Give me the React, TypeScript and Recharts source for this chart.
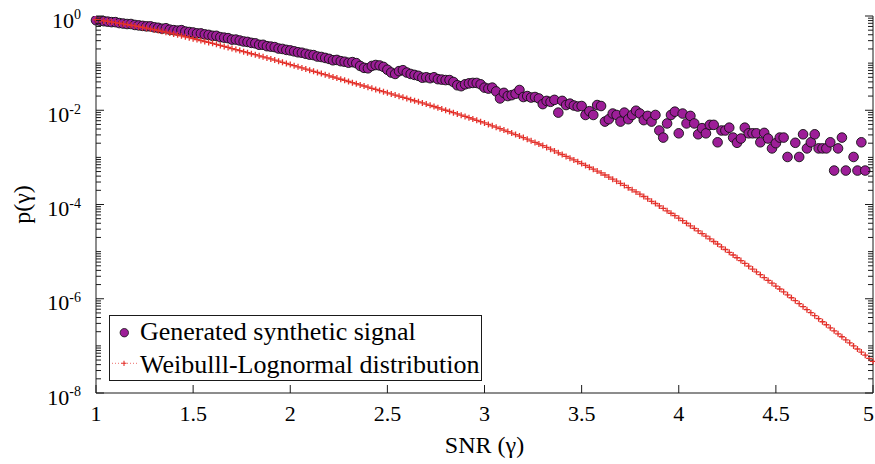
import { Legend, Scatter, ScatterChart, XAxis, YAxis } from "recharts";

// SNR grid shared by both series
const gamma = [
  1.0, 1.02, 1.04, 1.06, 1.08, 1.1, 1.12, 1.14, 1.16, 1.18,
  1.2, 1.22, 1.24, 1.26, 1.28, 1.3, 1.32, 1.34, 1.36, 1.38,
  1.4, 1.42, 1.44, 1.46, 1.48, 1.5, 1.52, 1.54, 1.56, 1.58,
  1.6, 1.62, 1.64, 1.66, 1.68, 1.7, 1.72, 1.74, 1.76, 1.78,
  1.8, 1.82, 1.84, 1.86, 1.88, 1.9, 1.92, 1.94, 1.96, 1.98,
  2.0, 2.02, 2.04, 2.06, 2.08, 2.1, 2.12, 2.14, 2.16, 2.18,
  2.2, 2.22, 2.24, 2.26, 2.28, 2.3, 2.32, 2.34, 2.36, 2.38,
  2.4, 2.42, 2.44, 2.46, 2.48, 2.5, 2.52, 2.54, 2.56, 2.58,
  2.6, 2.62, 2.64, 2.66, 2.68, 2.7, 2.72, 2.74, 2.76, 2.78,
  2.8, 2.82, 2.84, 2.86, 2.88, 2.9, 2.92, 2.94, 2.96, 2.98,
  3.0, 3.02, 3.04, 3.06, 3.08, 3.1, 3.12, 3.14, 3.16, 3.18,
  3.2, 3.22, 3.24, 3.26, 3.28, 3.3, 3.32, 3.34, 3.36, 3.38,
  3.4, 3.42, 3.44, 3.46, 3.48, 3.5, 3.52, 3.54, 3.56, 3.58,
  3.6, 3.62, 3.64, 3.66, 3.68, 3.7, 3.72, 3.74, 3.76, 3.78,
  3.8, 3.82, 3.84, 3.86, 3.88, 3.9, 3.92, 3.94, 3.96, 3.98,
  4.0, 4.02, 4.04, 4.06, 4.08, 4.1, 4.12, 4.14, 4.16, 4.18,
  4.2, 4.22, 4.24, 4.26, 4.28, 4.3, 4.32, 4.34, 4.36, 4.38,
  4.4, 4.42, 4.44, 4.46, 4.48, 4.5, 4.52, 4.54, 4.56, 4.58,
  4.6, 4.62, 4.64, 4.66, 4.68, 4.7, 4.72, 4.74, 4.76, 4.78,
  4.8, 4.82, 4.84, 4.86, 4.88, 4.9, 4.92, 4.94, 4.96, 4.98,
  5.0,
];

// histogram of the generated signal (null = empty bin)
const synthetic = [
  0.813, 0.794, 0.776, 0.759, 0.741, 0.741, 0.708, 0.692, 0.676, 0.676,
  0.646, 0.631, 0.617, 0.603, 0.603, 0.575, 0.562, 0.537, 0.55, 0.513,
  0.501, 0.49, 0.501, 0.468, 0.457, 0.447, 0.427, 0.427, 0.407, 0.398,
  0.38, 0.38, 0.355, 0.347, 0.339, 0.316, 0.316, 0.302, 0.288, 0.282,
  0.269, 0.263, 0.245, 0.245, 0.229, 0.224, 0.219, 0.204, 0.2, 0.191,
  0.186, 0.178, 0.17, 0.166, 0.158, 0.151, 0.148, 0.138, 0.135, 0.129,
  0.123, 0.115, 0.117, 0.11, 0.107, 0.102, 0.105, 0.1, 0.0871, 0.0794,
  0.0776, 0.0871, 0.0912, 0.0891, 0.0832, 0.0724, 0.0631, 0.0589, 0.0676, 0.0708,
  0.0631, 0.0589, 0.0562, 0.0537, 0.049, 0.0501, 0.0479, 0.0501, 0.0457, 0.0447,
  0.0437, 0.0437, 0.0398, 0.0339, 0.0324, 0.0355, 0.0372, 0.038, 0.038, 0.0355,
  0.0302, 0.0288, 0.0302, 0.0251, 0.0178, 0.0234, 0.02, 0.0209, 0.0224, 0.0269,
  0.0191, 0.02, 0.0186, 0.0191, 0.0178, 0.0135, 0.0158, 0.0151, 0.0166, 0.00891,
  0.0158, 0.0129, 0.0138, 0.0126, 0.012, 0.0123, 0.00794, 0.00955, 0.00794, 0.0129,
  0.0123, 0.00575, 0.00646, 0.00851, 0.00794, 0.00575, 0.00891, 0.00646, 0.00794, 0.00977,
  0.00851, 0.00617, 0.00759, 0.00575, 0.00794, 0.00372, 0.00263, 0.00525, 0.00794, 0.00933,
  0.00324, 0.00851, 0.00525, 0.00759, 0.00525, 0.00309, 0.00417, 0.00324, 0.0049, 0.0049,
  0.00209, 0.00372, 0.00372, 0.00427, 0.00263, 0.00204, 0.00251, 0.00427, 0.00324, 0.00324,
  0.00324, 0.00209, 0.00331, 0.00251, 0.00155, 0.002, 0.00263, 0.00263, 0.00102, null,
  0.00204, 0.00102, 0.00309, 0.00155, 0.00209, 0.00309, 0.00155, 0.00155, 0.00155, 0.00209,
  0.000525, 0.00155, 0.00263, 0.000525, null, 0.00102, 0.000525, 0.00209, 0.000525, null,
  null,
];

// analytical Weibull-Lognormal pdf
const weibullLognormal = [
  0.832, 0.809, 0.787, 0.766, 0.745, 0.724, 0.701, 0.679, 0.658, 0.637,
  0.617, 0.594, 0.573, 0.552, 0.532, 0.513, 0.492, 0.472, 0.453, 0.435,
  0.417, 0.398, 0.38, 0.363, 0.347, 0.331, 0.316, 0.302, 0.288, 0.275,
  0.263, 0.25, 0.238, 0.226, 0.215, 0.204, 0.194, 0.185, 0.175, 0.167,
  0.158, 0.151, 0.143, 0.136, 0.129, 0.123, 0.116, 0.11, 0.104, 0.0986,
  0.0933, 0.0883, 0.0836, 0.0791, 0.0748, 0.0708, 0.067, 0.0634, 0.06, 0.0568,
  0.0537, 0.0508, 0.0481, 0.0455, 0.0431, 0.0407, 0.0385, 0.0365, 0.0345, 0.0327,
  0.0309, 0.0292, 0.0277, 0.0262, 0.0248, 0.0234, 0.0222, 0.021, 0.0199, 0.0188,
  0.0178, 0.0168, 0.0159, 0.0151, 0.0143, 0.0135, 0.0127, 0.012, 0.0113, 0.0106,
  0.01, 0.00942, 0.00887, 0.00836, 0.00787, 0.00741, 0.00695, 0.00652, 0.00611, 0.00573,
  0.00537, 0.00501, 0.00468, 0.00437, 0.00407, 0.0038, 0.00353, 0.00328, 0.00305, 0.00283,
  0.00263, 0.00243, 0.00225, 0.00208, 0.00192, 0.00178, 0.00163, 0.00149, 0.00137, 0.00125,
  0.00115, 0.00105, 9.64e-4, 8.83e-4, 8.09e-4, 7.41e-4, 6.76e-4, 6.17e-4, 5.62e-4, 5.13e-4,
  4.68e-4, 4.23e-4, 3.82e-4, 3.45e-4, 3.12e-4, 2.82e-4, 2.54e-4, 2.28e-4, 2.05e-4, 1.85e-4,
  1.66e-4, 1.48e-4, 1.32e-4, 1.17e-4, 1.05e-4, 9.33e-5, 8.28e-5, 7.35e-5, 6.52e-5, 5.78e-5,
  5.13e-5, 4.53e-5, 4.0e-5, 3.53e-5, 3.12e-5, 2.75e-5, 2.42e-5, 2.13e-5, 1.87e-5, 1.64e-5,
  1.45e-5, 1.26e-5, 1.11e-5, 9.68e-6, 8.47e-6, 7.41e-6, 6.46e-6, 5.62e-6, 4.9e-6, 4.27e-6,
  3.72e-6, 3.24e-6, 2.82e-6, 2.45e-6, 2.14e-6, 1.86e-6, 1.61e-6, 1.4e-6, 1.21e-6, 1.05e-6,
  9.12e-7, 7.87e-7, 6.79e-7, 5.86e-7, 5.06e-7, 4.37e-7, 3.77e-7, 3.25e-7, 2.81e-7, 2.42e-7,
  2.09e-7, 1.8e-7, 1.56e-7, 1.34e-7, 1.16e-7, 1.0e-7, 8.59e-8, 7.38e-8, 6.34e-8, 5.45e-8,
  4.68e-8,
];

const xTicks = [1, 1.5, 2, 2.5, 3, 3.5, 4, 4.5, 5];
const yLabelValues = [1, 1e-2, 1e-4, 1e-6, 1e-8];
const yLabelExps = ["0", "-2", "-4", "-6", "-8"];
const decades = [-8, -7, -6, -5, -4, -3, -2, -1];
const minorSteps = [2, 3, 4, 5, 6, 7, 8, 9];

const yTicks = [
  ...yLabelValues,
  ...[1e-1, 1e-3, 1e-5, 1e-7],
  ...decades.flatMap((d) => minorSteps.map((k) => k * Math.pow(10, d))),
];

const synthData = gamma
  .map((g, i) => ({ gamma: g, p: synthetic[i] }))
  .filter((d) => d.p !== null);
const modelData = gamma.map((g, i) => ({ gamma: g, p: weibullLognormal[i] }));

const FONT = "Liberation Serif, Tinos, Times New Roman, DejaVu Serif, serif";
const AXIS = "#1a1a1a";
const PURPLE = "#9d1e98";
const RED = "#e4312b";
const serif = { fontFamily: FONT };

function BottomTick(props: any) {
  const { x, y, payload, index } = props;
  const last = index === xTicks.length - 1;
  return (
    <g>
      <line x1={x} y1={y} x2={x} y2={y - 8} stroke={AXIS} />
      <text
        x={last ? x + 1 : x}
        y={y + 28}
        textAnchor={last ? "end" : "middle"}
        fontSize={22}
        style={serif}
        fill="#000"
      >
        {payload.value}
      </text>
    </g>
  );
}

function TopTick(props: any) {
  const { x, y } = props;
  return <line x1={x} y1={y} x2={x} y2={y + 8} stroke={AXIS} />;
}

function LeftTick(props: any) {
  const { x, y, payload } = props;
  const i = yLabelValues.indexOf(payload.value);
  const len = i >= 0 ? 8 : 5;
  return (
    <g>
      <line x1={x} y1={y} x2={x + len} y2={y} stroke={AXIS} />
      {i >= 0 && (
        <text x={x - 15} y={y + 11.7} textAnchor="end" style={serif} fill="#000">
          <tspan fontSize={22}>10</tspan>
          <tspan fontSize={14} dy={-8.4}>
            {yLabelExps[i]}
          </tspan>
        </text>
      )}
    </g>
  );
}

function RightTick(props: any) {
  const { x, y, payload } = props;
  const len = yLabelValues.indexOf(payload.value) >= 0 ? 8 : 5;
  return <line x1={x} y1={y} x2={x - len} y2={y} stroke={AXIS} />;
}

function Plus(props: any) {
  const { cx, cy } = props;
  return (
    <path
      d={`M${cx - 3},${cy}H${cx + 3}M${cx},${cy - 3}V${cy + 3}`}
      stroke={RED}
      strokeWidth={1.3}
      fill="none"
    />
  );
}

function Dot(props: any) {
  const { cx, cy } = props;
  return <circle cx={cx} cy={cy} r={4.8} fill={PURPLE} stroke="#111" strokeWidth={0.9} />;
}

function LegendBox() {
  return (
    <svg width={373} height={66} style={{ display: "block" }}>
      <rect x={0.5} y={0.5} width={372} height={65} fill="#fff" stroke={AXIS} />
      <circle cx={15.3} cy={17.7} r={4.2} fill={PURPLE} stroke="#111" strokeWidth={0.8} />
      <text x={31} y={25} fontSize={26} style={serif} fill="#000">
        Generated synthetic signal
      </text>
      <line x1={3} y1={48.3} x2={28} y2={48.3} stroke={RED} strokeWidth={0.7} strokeDasharray="1 2" />
      <path d="M12.4,48.3H17.6M15,45.7V50.9" stroke={RED} strokeWidth={1.1} />
      <text x={31} y={58.3} fontSize={26} style={serif} fill="#000">
        Weibulll-Lognormal distribution
      </text>
    </svg>
  );
}

export default function App() {
  return (
    <div style={{ width: 875, height: 464, background: "#fff" }}>
      <style>{"body{margin:0}"}</style>
      <ScatterChart width={875} height={464} margin={{ top: 16, right: 0, bottom: 0, left: 0 }}>
        <XAxis
          xAxisId="x"
          dataKey="gamma"
          type="number"
          domain={[1, 5]}
          ticks={xTicks}
          interval={0}
          height={71}
          tickSize={0}
          tickMargin={0}
          tickLine={false}
          axisLine={{ stroke: AXIS }}
          tick={(p: any) => <BottomTick {...p} />}
          label={{
            content: (p: any) => (
              <text
                x={p.viewBox.x + p.viewBox.width / 2}
                y={p.viewBox.y + 60}
                textAnchor="middle"
                fontSize={24}
                style={serif}
                fill="#000"
              >
                SNR (γ)
              </text>
            ),
          }}
        />
        <XAxis
          xAxisId="xt"
          dataKey="gamma"
          type="number"
          orientation="top"
          domain={[1, 5]}
          ticks={xTicks}
          interval={0}
          height={0}
          tickSize={0}
          tickMargin={0}
          tickLine={false}
          axisLine={{ stroke: AXIS }}
          tick={(p: any) => <TopTick {...p} />}
        />
        <YAxis
          yAxisId="y"
          dataKey="p"
          type="number"
          scale="log"
          domain={[1e-8, 1]}
          allowDataOverflow
          ticks={yTicks}
          interval={0}
          width={96}
          tickSize={0}
          tickMargin={0}
          tickLine={false}
          axisLine={{ stroke: AXIS }}
          tick={(p: any) => <LeftTick {...p} />}
          label={{
            content: (p: any) => (
              <text
                transform={`translate(${p.viewBox.x + 22},${p.viewBox.y + p.viewBox.height / 2}) rotate(-90)`}
                textAnchor="middle"
                dominantBaseline="central"
                fontSize={24}
                style={serif}
                fill="#000"
              >
                p(γ)
              </text>
            ),
          }}
        />
        <YAxis
          yAxisId="yr"
          dataKey="p"
          type="number"
          orientation="right"
          scale="log"
          domain={[1e-8, 1]}
          allowDataOverflow
          ticks={yTicks}
          interval={0}
          width={2}
          tickSize={0}
          tickMargin={0}
          tickLine={false}
          axisLine={{ stroke: AXIS }}
          tick={(p: any) => <RightTick {...p} />}
        />
        <Scatter
          name="Generated synthetic signal"
          data={synthData}
          xAxisId="x"
          yAxisId="y"
          shape={(p: any) => <Dot {...p} />}
          isAnimationActive={false}
        />
        <Scatter
          name="Weibulll-Lognormal distribution"
          data={modelData}
          xAxisId="x"
          yAxisId="y"
          line={{ stroke: RED, strokeWidth: 0.7, strokeDasharray: "1 2" }}
          lineType="joint"
          shape={(p: any) => <Plus {...p} />}
          isAnimationActive={false}
        />
        <Legend
          layout="vertical"
          verticalAlign="middle"
          align="center"
          content={() => <LegendBox />}
          wrapperStyle={{ left: 109, top: 315, width: 373, height: 66 }}
        />
      </ScatterChart>
    </div>
  );
}
